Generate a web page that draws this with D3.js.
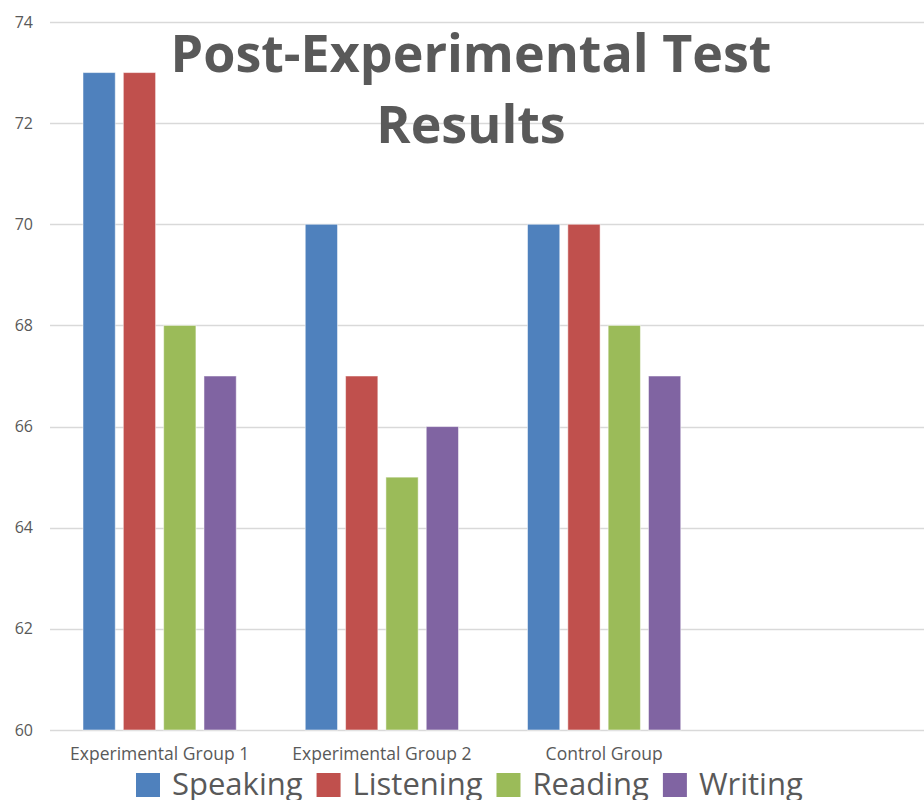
<!DOCTYPE html>
<html>
<head>
<meta charset="utf-8">
<script src="https://cdn.jsdelivr.net/npm/d3@7"></script>
<style>
  body { margin: 0; background: #fff; }
  svg { display: block; font-family: "Open Sans", sans-serif; }
</style>
</head>
<body>
<svg id="vis"></svg>
<script>
const WIDTH = 924;
const HEIGHT = 800;

// chart data
var groups = ["Experimental Group 1", "Experimental Group 2", "Control Group"];
var seriesNames = ["Speaking", "Listening", "Reading", "Writing"];
var speaking = [73, 70, 70];
var listening = [73, 67, 70];
var reading = [68, 65, 68];
var writing = [67, 66, 67];
var yTicks = [60, 62, 64, 66, 68, 70, 72, 74];
var colors = ["#4F81BD", "#C0504D", "#9BBB59", "#8064A2"];

window.onload = function() {
    setupVis();
};

function setupVis() {
    var values = [speaking, listening, reading, writing];

    let svg = d3.select("#vis")
        .attr("width", WIDTH)
        .attr("height", HEIGHT);

    let yScale = d3.scaleLinear()
        .domain([60, 74])
        .range([730, 22]);

    // 3 groups, each group slot ~222px wide (chart is cropped on the right)
    let x0 = d3.scaleBand()
        .domain(groups)
        .range([48.5, 48.5 + 3 * 222.25]);

    let x1 = d3.scaleBand()
        .domain(seriesNames)
        .range([34.5, x0.bandwidth() - 34.5])
        .paddingInner(0.2);

    // gridlines
    svg.append("g")
        .selectAll("line")
        .data(yTicks)
        .enter()
        .append("line")
        .attr("x1", 50)
        .attr("x2", WIDTH)
        .attr("y1", function(d) { return Math.round(yScale(d)) + 0.5; })
        .attr("y2", function(d) { return Math.round(yScale(d)) + 0.5; })
        .attr("stroke", "#d9d9d9")
        .attr("stroke-width", 1.5);

    // y labels
    svg.append("g")
        .selectAll("text")
        .data(yTicks)
        .enter()
        .append("text")
        .text(function(d) { return d; })
        .attr("x", 33)
        .attr("y", function(d) { return yScale(d); })
        .attr("dy", "0.35em")
        .attr("text-anchor", "end")
        .attr("font-size", "16px")
        .attr("fill", "#595959");

    // bars
    for (var s = 0; s < seriesNames.length; s++) {
        svg.append("g")
            .selectAll("rect")
            .data(values[s])
            .enter()
            .append("rect")
            .attr("x", function(d, i) { return x0(groups[i]) + x1(seriesNames[s]); })
            .attr("y", function(d) { return yScale(d); })
            .attr("width", x1.bandwidth())
            .attr("height", function(d) { return yScale(60) - yScale(d); })
            .attr("fill", colors[s])
            .attr("stroke", "#ffffff")
            .attr("stroke-opacity", 0.5)
            .attr("stroke-width", 1);
    }

    // x labels
    svg.append("g")
        .selectAll("text")
        .data(groups)
        .enter()
        .append("text")
        .text(function(d) { return d; })
        .attr("x", function(d) { return x0(d) + x0.bandwidth() / 2; })
        .attr("y", 760)
        .attr("text-anchor", "middle")
        .attr("font-size", "17.5px")
        .attr("fill", "#595959");

    // title
    let title = svg.append("text")
        .attr("text-anchor", "middle")
        .attr("font-size", "52px")
        .attr("font-weight", "bold")
        .attr("fill", "#595959");
    title.append("tspan").attr("x", 471).attr("y", 72).text("Post-Experimental Test");
    title.append("tspan").attr("x", 471).attr("y", 143).text("Results");

    // legend
    let legend = svg.append("g");
    var lx = 136;
    for (var k = 0; k < seriesNames.length; k++) {
        legend.append("rect")
            .attr("x", lx)
            .attr("y", 773)
            .attr("width", 24)
            .attr("height", 24)
            .attr("fill", colors[k]);
        let t = legend.append("text")
            .text(seriesNames[k])
            .attr("x", lx + 36)
            .attr("y", 795)
            .attr("font-size", "31px")
            .attr("fill", "#595959");
        lx = lx + 36 + t.node().getComputedTextLength() + 14;
    }
}
</script>
</body>
</html>
